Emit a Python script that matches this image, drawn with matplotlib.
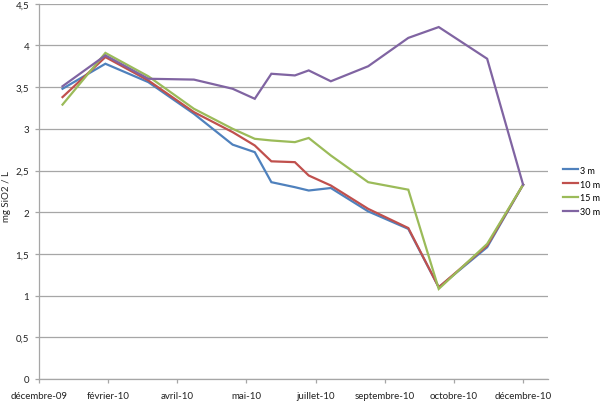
import matplotlib
matplotlib.use("Agg")
import matplotlib.pyplot as plt
import matplotlib.dates as mdates
import numpy as np
from datetime import date, timedelta

plt.rcParams['font.family'] = ['Lato', 'DejaVu Sans']

dates = ["2010-01-14", "2010-02-14", "2010-03-17", "2010-04-19", "2010-05-17",
         "2010-06-02", "2010-06-14", "2010-07-01", "2010-07-11", "2010-07-27",
         "2010-08-23", "2010-09-21", "2010-10-13", "2010-11-17", "2010-12-13"]

s_3m  = [3.48, 3.78, 3.56, 3.18, 2.81, 2.72, 2.36, 2.30, 2.26, 2.29, 2.01, 1.80, 1.10, 1.58, 2.33]
s_10m = [3.38, 3.86, 3.58, 3.20, 2.96, 2.80, 2.61, 2.60, 2.44, 2.32, 2.04, 1.81, 1.10, 1.60, 2.33]
s_15m = [3.29, 3.91, 3.63, 3.24, 3.00, 2.88, 2.86, 2.84, 2.89, 2.68, 2.36, 2.27, 1.08, 1.62, 2.33]
s_30m = [3.51, 3.88, 3.60, 3.59, 3.48, 3.36, 3.66, 3.64, 3.70, 3.57, 3.75, 4.09, 4.22, 3.84, 2.33]

series_names = ["3 m", "10 m", "15 m", "30 m"]
colors = ["#4F81BD", "#C0504D", "#9BBB59", "#8064A2"]

tick_labels = ["décembre-09", "février-10", "avril-10", "mai-10", "juillet-10",
               "septembre-10", "octobre-10", "décembre-10"]
y_ticks = [0, 0.5, 1, 1.5, 2, 2.5, 3, 3.5, 4, 4.5]

x = [mdates.date2num(date.fromisoformat(d)) for d in dates]

fig = plt.figure(figsize=(6.1, 4.14), dpi=100)
ax = fig.add_axes([39/610, 34/414, (548-39)/610, (380-4.7)/414])

for name, vals, c in zip(series_names, [s_3m, s_10m, s_15m, s_30m], colors):
    ax.plot(x, vals, color=c, lw=1.6, label=name, solid_joinstyle='miter')

start = date(2009, 12, 28)
tick_pos = [mdates.date2num(start + timedelta(days=50 * i)) for i in range(len(tick_labels))]
ax.set_xticks(tick_pos)
ax.set_xticklabels(tick_labels, fontsize=7, color="#222222")
ax.set_xlim(tick_pos[0], tick_pos[0] + 368)

ax.set_ylim(0, 4.5)
ax.set_yticks(y_ticks)
ax.set_yticklabels([("%g" % v).replace(".", ",") for v in y_ticks], fontsize=7, color="#222222")
ax.yaxis.grid(True, color="#a6a6a6", lw=0.9)
ax.set_axisbelow(True)

for sp in ["top", "right"]:
    ax.spines[sp].set_visible(False)
for sp in ["left", "bottom"]:
    ax.spines[sp].set_color("#a6a6a6")
    ax.spines[sp].set_linewidth(0.9)
ax.tick_params(axis="both", colors="#a6a6a6", length=3, width=0.9, labelcolor="#222222")
ax.tick_params(axis="x", pad=6)
ax.tick_params(axis="y", pad=4)

ax.set_ylabel("mg SiO2 / L", fontsize=7, color="#222222")
ax.yaxis.set_label_coords(-28/509, 0.49)

leg = fig.legend(loc="center left", bbox_to_anchor=(555/610, 1 - 192/414), frameon=False,
                 fontsize=6.5, handlelength=1.6, handletextpad=0.3, labelspacing=0.55)

fig.savefig("out.png", dpi=100)
